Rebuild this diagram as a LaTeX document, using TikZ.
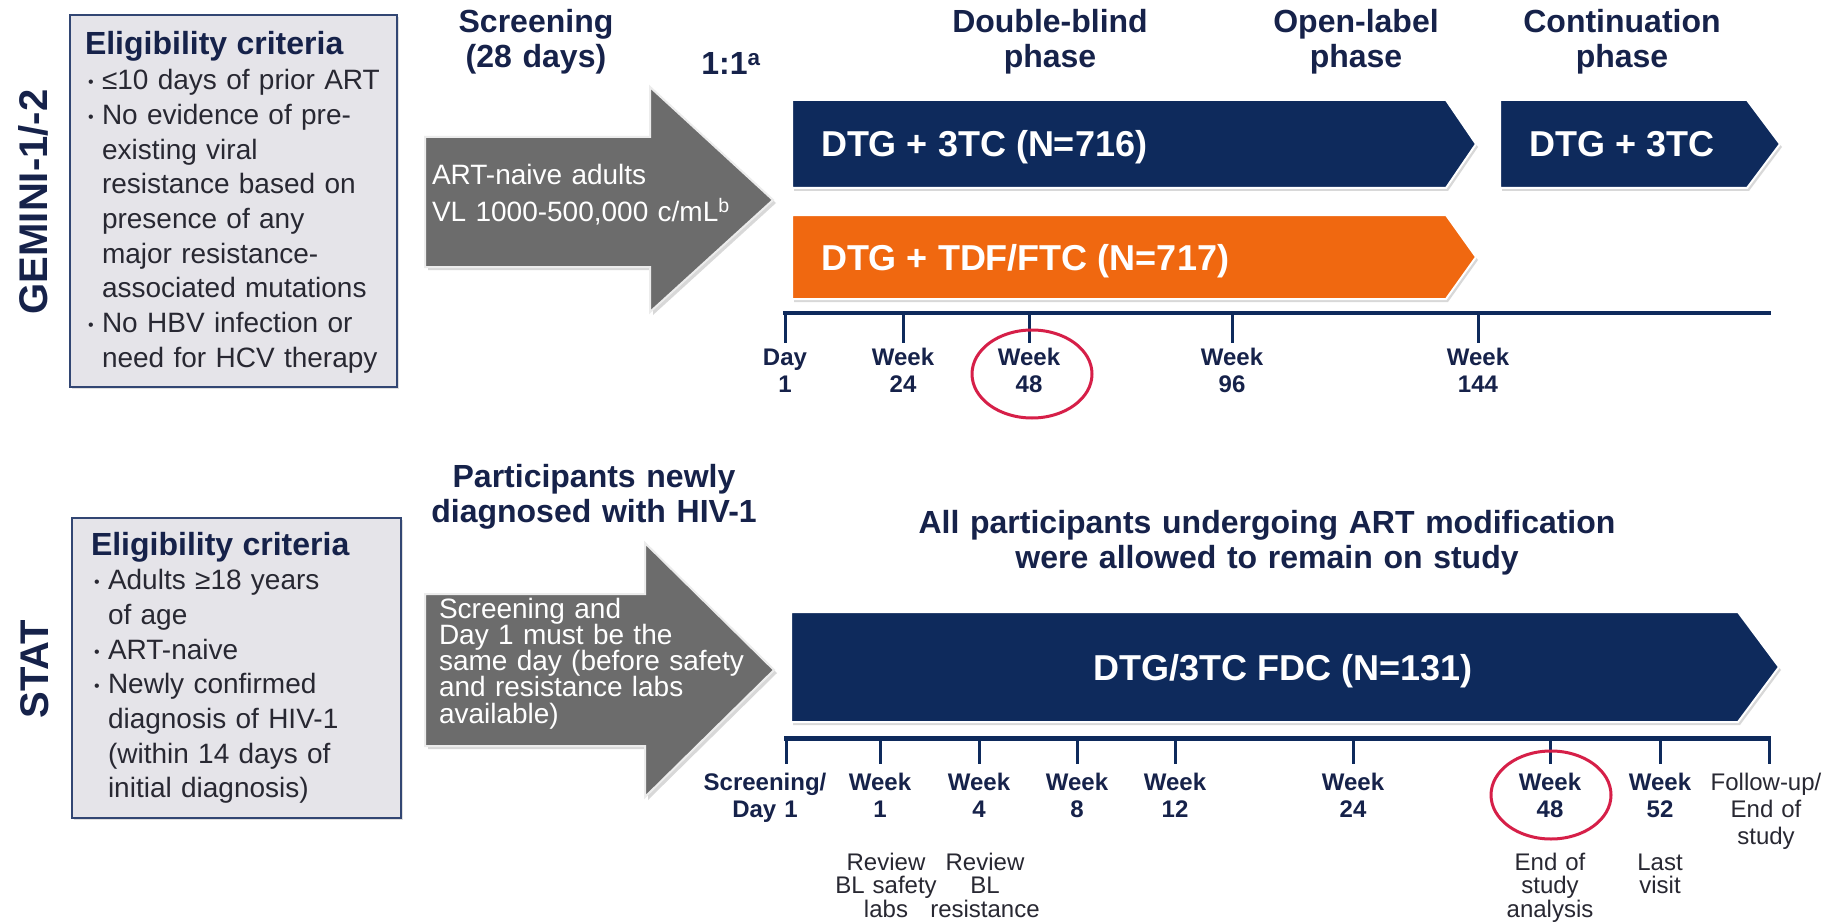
\documentclass[tikz,border=0pt]{standalone}
\usepackage{fontspec}
\setmainfont{Liberation Sans}
\usetikzlibrary{shadows}

\definecolor{navybar}{RGB}{14,42,92}
\definecolor{navytext}{RGB}{22,34,74}
\definecolor{orangebar}{RGB}{240,104,16}
\definecolor{arrowgray}{RGB}{108,108,108}
\definecolor{boxfill}{RGB}{229,228,233}
\definecolor{boxline}{RGB}{50,70,115}
\definecolor{ringred}{RGB}{214,31,72}
\definecolor{bodytext}{RGB}{40,40,50}

\newcommand{\critbullet}{\makebox[17pt][l]{\hspace{3pt}\raisebox{2pt}{\fontsize{16}{16}\selectfont\textbullet}}}
\newcommand{\critindent}{\hspace*{17pt}}

\begin{document}
\begin{tikzpicture}[x=1pt,y=-1pt,
  every node/.style={inner sep=0pt,outer sep=0pt},
  studyname/.style={rotate=90,anchor=base,text=navytext,font=\bfseries\fontsize{40}{40}\selectfont},
  critbox/.style={fill=boxfill,draw=boxline,line width=2pt,drop shadow={opacity=0.25,shadow xshift=2pt,shadow yshift=-2pt}},
  crittext/.style={anchor=base west,text width=310pt,align=left,text=bodytext,font=\fontsize{28}{34.7}\selectfont},
  phase/.style={anchor=base,text width=460pt,align=center,text=navytext,font=\bfseries\fontsize{32}{35}\selectfont},
  screenarrow/.style={fill=arrowgray,draw=gray!15,line width=2pt,drop shadow={opacity=0.3,shadow xshift=3pt,shadow yshift=-3pt}},
  bar/.style={draw=white,line width=2pt,drop shadow={opacity=0.3,shadow xshift=2pt,shadow yshift=-3pt}},
  bartext/.style={text=white,font=\bfseries\fontsize{36}{36}\selectfont},
  axis/.style={draw=navybar,line width=4pt},
  tick/.style={draw=navybar,line width=3pt},
  ticklabel/.style={anchor=base,text width=140pt,align=center,text=navytext,font=\bfseries\fontsize{24}{27}\selectfont},
  visitnote/.style={anchor=base,text width=140pt,align=center,text=bodytext,font=\fontsize{24}{23.5}\selectfont},
  ring/.style={draw=ringred,line width=3pt}]
\useasboundingbox[fill=white] (0,0) rectangle (1824,923);

% GEMINI-1/-2
\node[studyname] (gemini) at (47,202) {GEMINI-1/-2};
\path[critbox] (70,15) rectangle (397,387);
\node[crittext] (gcrit) at (85,55) {{\fontsize{32}{34.7}\selectfont\bfseries\color{navytext}Eligibility criteria}\\
\critbullet≤10 days of prior ART\\
\critbullet No evidence of pre-\\
\critindent existing viral\\
\critindent resistance based on\\
\critindent presence of any\\
\critindent major resistance-\\
\critindent associated mutations\\
\critbullet No HBV infection or\\
\critindent need for HCV therapy};

\node[phase] (gscreen) at (536,33) {Screening\\(28 days)};
\node[phase] (ratio) at (731,75) {1:1\textsuperscript{a}};
\node[phase] (dblind) at (1050,33) {Double-blind\\phase};
\node[phase] (olabel) at (1356,33) {Open-label\\phase};
\node[phase] (contin) at (1622,33) {Continuation\\phase};

\path[screenarrow] (425,137) -- (650,137) -- (650,87) -- (773,200) -- (650,312) -- (650,267) -- (425,267) -- cycle;
\node[anchor=base west,text width=340pt,align=left,text=white,font=\fontsize{28}{37}\selectfont] (gpop) at (432,185) {ART-naive adults\\VL 1000-500,000 c/mL\textsuperscript{b}};

\path[bar,fill=navybar] (792,100) -- (1446,100) -- (1476,144) -- (1446,188) -- (792,188) -- cycle;
\node[bartext,anchor=base west] (armdtg) at (821,157) {DTG + 3TC (N=716)};
\path[bar,fill=orangebar] (792,215) -- (1446,215) -- (1476,257) -- (1446,299) -- (792,299) -- cycle;
\node[bartext,anchor=base west] (armtdf) at (821,270) {DTG + TDF/FTC (N=717)};
\path[bar,fill=navybar] (1500,100) -- (1747,100) -- (1780,144) -- (1747,188) -- (1500,188) -- cycle;
\node[bartext,anchor=base] (armcont) at (1622,157) {DTG + 3TC};

\draw[axis] (783,313) -- (1771,313);
\foreach \tx/\tn/\tw in {785/1/Day, 903/24/Week, 1029/48/Week, 1232/96/Week, 1478/144/Week}{
  \draw[tick] (\tx,311) -- (\tx,343);
  \node[ticklabel] (g\tn) at (\tx,365) {\tw\\\tn};
}
\draw[ring] (1032,374) ellipse [x radius=60pt, y radius=44pt];

% STAT
\node[studyname] (stat) at (48,669) {STAT};
\path[critbox] (72,518) rectangle (401,818);
\node[crittext] (scrit) at (91,555) {{\fontsize{32}{34.7}\selectfont\bfseries\color{navytext}Eligibility criteria}\\
\critbullet Adults ≥18 years\\
\critindent of age\\
\critbullet ART-naive\\
\critbullet Newly confirmed\\
\critindent diagnosis of HIV-1\\
\critindent (within 14 days of\\
\critindent initial diagnosis)};

\node[phase] (newdx) at (594,487) {Participants newly\\diagnosed with HIV-1};
\node[phase,text width=760pt] (modif) at (1267,533) {All participants undergoing ART modification\\were allowed to remain on study};

\path[screenarrow] (425,594) -- (645,594) -- (645,543) -- (774,670) -- (645,797) -- (645,746) -- (425,746) -- cycle;
\node[anchor=base west,text width=340pt,align=left,text=white,font=\fontsize{28}{26.3}\selectfont] (spop) at (439,618) {Screening and\\Day 1 must be the\\same day (before safety\\and resistance labs\\available)};

\path[bar,fill=navybar] (791,612) -- (1738,612) -- (1779,667) -- (1738,722) -- (791,722) -- cycle;
\node[bartext,anchor=base] (armfdc) at (1283,680) {DTG/3TC FDC (N=131)};

\draw[axis,line width=5pt] (784,738) -- (1771,738);
\foreach \tx in {786,880,979,1077,1175,1353,1550,1660,1769}
  \draw[tick] (\tx,736) -- (\tx,764);
\node[ticklabel] (sday) at (765,790) {Screening/\\Day 1};
\foreach \tx/\tn in {880/1, 979/4, 1077/8, 1175/12, 1353/24, 1550/48, 1660/52}
  \node[ticklabel] (s\tn) at (\tx,790) {Week\\\tn};
\node[ticklabel,font=\fontsize{24}{27}\selectfont,text=bodytext] (sfu) at (1766,790) {Follow-up/\\End of\\study};

\node[visitnote] (rsafe) at (886,870) {Review\\BL safety\\labs};
\node[visitnote] (rres) at (985,870) {Review\\BL\\resistance};
\node[visitnote] (eosa) at (1550,870) {End of\\study\\analysis};
\node[visitnote] (lastv) at (1660,870) {Last\\visit};
\draw[ring] (1551,795) ellipse [x radius=60pt, y radius=44pt];
\end{tikzpicture}
\end{document}
